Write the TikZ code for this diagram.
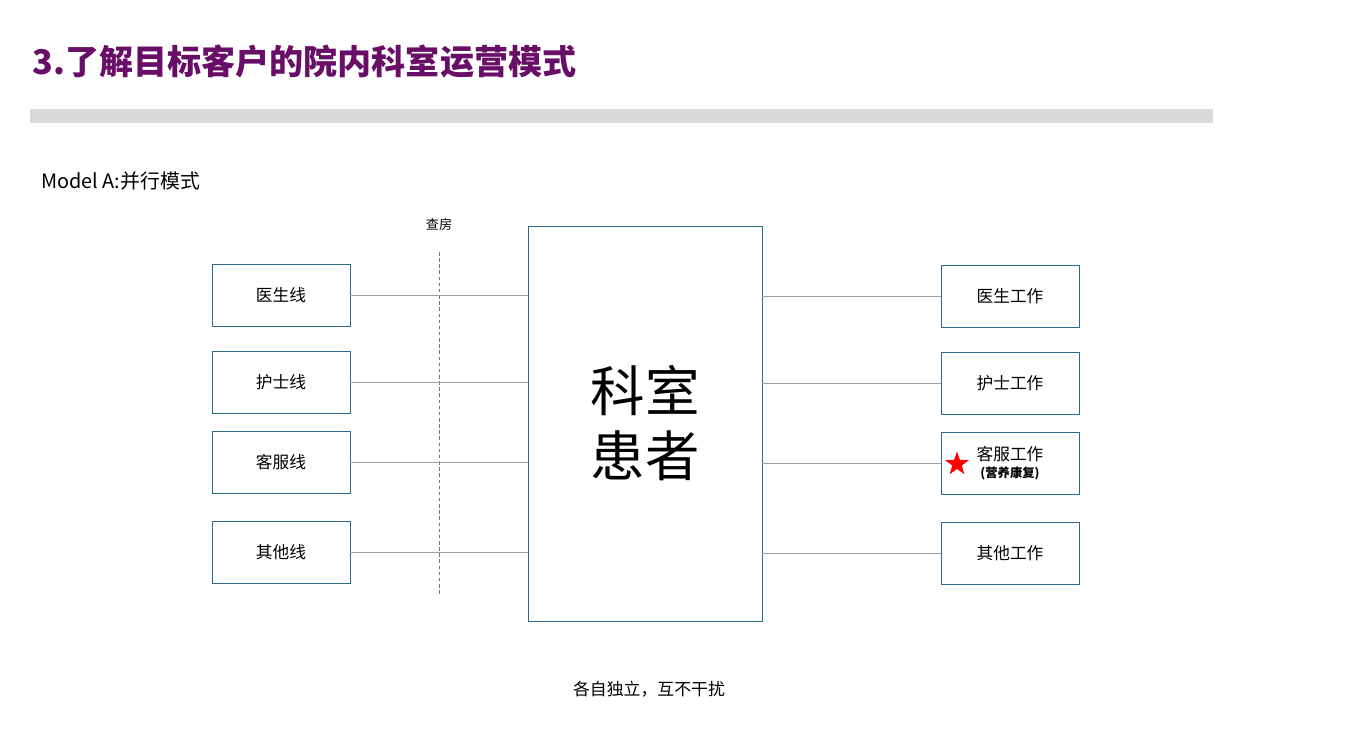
\documentclass[tikz,border=0pt]{standalone}
\usepackage{fontspec}
\setmainfont{Noto Sans CJK SC}
\usetikzlibrary{shapes.geometric}
\definecolor{titlepurple}{RGB}{104,14,102}
\definecolor{boxblue}{RGB}{46,104,138}
\definecolor{bargray}{RGB}{217,217,217}
\definecolor{wiregray}{RGB}{160,160,160}

\begin{document}
\begin{tikzpicture}[x=0.02cm,y=-0.02cm,
  linebox/.style={draw=boxblue, line width=0.45pt, minimum width=2.76cm, minimum height=1.24cm, inner sep=0pt, align=center, font=\fontsize{9.5}{11}\selectfont},
  wardbox/.style={draw=boxblue, line width=0.45pt, minimum width=4.68cm, minimum height=7.9cm, inner sep=0pt, align=center, font=\fontsize{31}{37}\selectfont},
  wire/.style={draw=wiregray, line width=0.5pt}]
\useasboundingbox (0,0) rectangle (1357,748);

\node[anchor=west, inner sep=0pt, text=titlepurple, font=\fontsize{19.4}{23}\selectfont\bfseries] (title) at (32,62) {3.了解目标客户的院内科室运营模式};
\fill[bargray] (30,109) rectangle (1213,123);
\node[anchor=west, inner sep=0pt, font=\fontsize{11.3}{13}\selectfont] (model) at (41,181) {Model A:并行模式};

\node[wardbox] (ward) at (645,423.5) {科室\\患者};

\node[linebox] (doc) at (281,295) {医生线};
\node[linebox] (nurse) at (281,382) {护士线};
\node[linebox] (serv) at (281,462) {客服线};
\node[linebox] (other) at (281,552) {其他线};

\node[linebox] (docw) at (1010,296) {医生工作};
\node[linebox] (nursew) at (1010,383) {护士工作};
\node[linebox] (servw) at (1010,463) {客服工作\\[-1.5pt]{\fontsize{7}{8}\selectfont\bfseries(营养康复)}};
\node[linebox] (otherw) at (1010,553) {其他工作};

\node[star, star points=5, star point ratio=2.5, fill=red, inner sep=0pt, minimum size=0.5cm] (mark) at (957,464) {};

\coordinate (rtop) at (439,252);
\coordinate (rbot) at (439,596);
\node[font=\fontsize{7.5}{9}\selectfont] (round) at (439,224) {查房};
\draw[gray!90!black, line width=0.5pt, dash pattern=on 2pt off 1.5pt] (rtop) -- (rbot);

\draw[wire] (doc.east) -- (ward.west |- doc.east);
\draw[wire] (nurse.east) -- (ward.west |- nurse.east);
\draw[wire] (serv.east) -- (ward.west |- serv.east);
\draw[wire] (other.east) -- (ward.west |- other.east);

\draw[wire] (ward.east |- docw.west) -- (docw.west);
\draw[wire] (ward.east |- nursew.west) -- (nursew.west);
\draw[wire] (ward.east |- servw.west) -- (servw.west);
\draw[wire] (ward.east |- otherw.west) -- (otherw.west);

\node[font=\fontsize{9.6}{11}\selectfont] (note) at (649,689) {各自独立，互不干扰};

\end{tikzpicture}
\end{document}
